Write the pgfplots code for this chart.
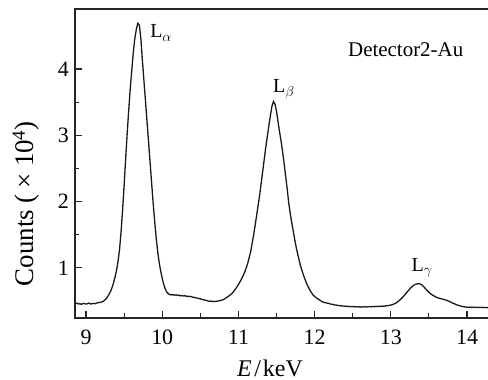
\documentclass[border=0pt]{standalone}
\usepackage{fontspec}
\setmainfont{Liberation Serif}
\usepackage{pgfplots}
\pgfplotsset{compat=1.18}
\begin{document}
\begin{tikzpicture}
\begin{axis}[
  name=ax,
  scale only axis,
  width=422.5bp, height=308.9bp,
  xmin=8.855, xmax=14.4,
  ymin=0.246, ymax=4.905,
  xtick={9,10,11,12,13,14},
  ytick={1,2,3,4},
  minor x tick num=1,
  minor y tick num=1,
  xtick pos=bottom, ytick pos=left,
  tick align=inside,
  major tick length=7bp,
  minor tick length=4.5bp,
  axis line style={line width=1.6bp, black!85},
  every tick/.style={line width=1.1bp, black!85},
  /pgf/number format/assume math mode=true,
  tick label style={font=\fontsize{22}{25}\selectfont},
  xticklabel style={inner sep=6bp, yshift=-6bp},
  yticklabel style={inner sep=6bp},
  xlabel={\textit{E}\kern2.5bp/\kern2bp keV},
  ylabel={Counts (\kern6bp×\kern6bp10\textsuperscript{4})},
  xlabel style={font=\fontsize{24}{26}\selectfont, at={(axis description cs:0.4615,-0.162)}, anchor=center},
  ylabel style={font=\fontsize{27}{29}\selectfont, at={(axis description cs:-0.116,0.37)}, anchor=center},
]
\addplot[line width=1.3bp, black!90] coordinates {
(8.86,0.460)(8.88,0.470)(8.90,0.455)(8.92,0.460)(8.94,0.450)(8.96,0.465)(8.98,0.460)(9.00,0.455)
(9.02,0.460)(9.04,0.470)(9.06,0.455)(9.08,0.460)(9.10,0.465)(9.12,0.460)(9.14,0.470)(9.16,0.475)
(9.18,0.480)(9.20,0.485)(9.22,0.490)(9.24,0.510)(9.26,0.530)(9.28,0.560)(9.30,0.600)(9.32,0.640)
(9.34,0.700)(9.36,0.770)(9.38,0.860)(9.40,0.960)(9.42,1.100)(9.44,1.280)(9.46,1.550)(9.48,1.880)
(9.50,2.250)(9.52,2.650)(9.54,3.030)(9.56,3.380)(9.58,3.700)(9.60,3.980)(9.62,4.250)(9.64,4.460)
(9.66,4.600)(9.68,4.690)(9.70,4.660)(9.72,4.450)(9.74,4.120)(9.76,3.820)(9.78,3.520)(9.80,3.210)
(9.82,2.910)(9.84,2.600)(9.86,2.290)(9.88,1.990)(9.90,1.710)(9.92,1.460)(9.94,1.250)(9.96,1.080)
(9.98,0.950)(10.00,0.840)(10.02,0.750)(10.04,0.680)(10.06,0.635)(10.08,0.610)
(10.10,0.600)(10.12,0.592)(10.14,0.598)(10.16,0.588)(10.18,0.594)(10.20,0.585)(10.22,0.590)
(10.24,0.578)(10.26,0.584)(10.28,0.576)(10.30,0.580)(10.32,0.570)(10.34,0.574)(10.36,0.566)
(10.38,0.569)(10.40,0.558)(10.42,0.556)(10.44,0.548)(10.46,0.545)(10.48,0.538)(10.50,0.535)
(10.52,0.524)(10.54,0.522)(10.56,0.512)(10.58,0.510)(10.60,0.502)(10.62,0.496)(10.64,0.500)
(10.66,0.492)(10.68,0.496)(10.70,0.494)(10.72,0.500)(10.74,0.502)(10.76,0.508)(10.78,0.514)
(10.80,0.520)(10.84,0.550)(10.88,0.580)(10.92,0.620)(10.96,0.680)(11.00,0.750)(11.04,0.830)
(11.08,0.930)(11.12,1.060)(11.16,1.240)(11.20,1.500)(11.24,1.800)(11.28,2.110)(11.32,2.470)
(11.36,2.830)(11.38,2.990)(11.40,3.150)(11.42,3.300)(11.44,3.440)(11.46,3.510)(11.48,3.470)
(11.50,3.360)(11.52,3.200)(11.54,3.050)(11.56,2.910)(11.58,2.750)(11.60,2.570)(11.62,2.380)
(11.64,2.190)(11.66,1.980)(11.68,1.820)(11.70,1.680)(11.72,1.550)(11.74,1.420)(11.76,1.300)
(11.78,1.200)(11.80,1.100)(11.82,1.010)(11.84,0.940)(11.86,0.870)(11.88,0.810)(11.90,0.750)
(11.94,0.660)(11.98,0.590)(12.02,0.550)(12.06,0.520)
(12.10,0.490)(12.12,0.482)(12.14,0.476)(12.16,0.470)(12.18,0.466)(12.20,0.458)(12.22,0.452)
(12.24,0.450)(12.26,0.442)(12.28,0.440)(12.30,0.436)(12.32,0.430)(12.34,0.432)(12.36,0.424)
(12.38,0.426)(12.40,0.420)(12.42,0.424)(12.44,0.416)(12.46,0.420)(12.48,0.414)(12.50,0.418)
(12.52,0.412)(12.54,0.416)(12.56,0.410)(12.58,0.414)(12.60,0.408)(12.62,0.414)(12.64,0.410)
(12.66,0.416)(12.68,0.410)(12.70,0.414)(12.72,0.418)(12.74,0.412)(12.76,0.418)(12.78,0.414)
(12.80,0.420)(12.82,0.416)(12.84,0.422)(12.86,0.418)(12.88,0.424)(12.90,0.420)(12.92,0.426)
(12.94,0.428)(12.96,0.430)(12.98,0.436)(13.00,0.440)(13.02,0.446)(13.04,0.455)(13.06,0.466)
(13.08,0.480)(13.10,0.498)(13.12,0.518)(13.14,0.540)(13.16,0.564)(13.18,0.590)(13.20,0.618)
(13.22,0.645)(13.24,0.672)(13.26,0.698)(13.28,0.720)(13.30,0.738)(13.32,0.750)(13.34,0.758)
(13.36,0.762)(13.38,0.760)(13.40,0.750)(13.42,0.730)(13.44,0.706)(13.46,0.680)(13.48,0.655)
(13.50,0.632)(13.52,0.612)(13.54,0.596)(13.56,0.582)(13.58,0.568)(13.60,0.556)(13.62,0.548)
(13.64,0.542)(13.66,0.534)(13.68,0.530)(13.70,0.522)(13.72,0.516)(13.74,0.508)(13.76,0.498)
(13.78,0.488)(13.80,0.476)(13.82,0.466)(13.84,0.456)(13.86,0.446)(13.88,0.438)(13.90,0.430)
(13.92,0.424)(13.94,0.418)(13.96,0.414)(13.98,0.410)(14.00,0.408)(14.02,0.406)(14.04,0.410)
(14.06,0.404)(14.08,0.408)(14.10,0.404)(14.12,0.408)(14.14,0.402)(14.16,0.406)(14.18,0.402)
(14.20,0.406)(14.22,0.400)(14.24,0.404)(14.26,0.400)(14.28,0.404)(14.30,0.400)(14.32,0.404)
(14.34,0.400)
};
\node[anchor=base west, font=\fontsize{20}{24}\selectfont, inner sep=0pt] at (axis cs:9.84,4.468) {L$_\alpha$};
\node[anchor=base west, font=\fontsize{20}{24}\selectfont, inner sep=0pt] at (axis cs:11.454,3.638) {L$_\beta$};
\node[anchor=base west, font=\fontsize{20}{24}\selectfont, inner sep=0pt] at (axis cs:13.27,0.944) {L$_\gamma$};
\node[anchor=base west, font=\fontsize{21}{24}\selectfont, inner sep=0pt] at (axis cs:12.438,4.186) {Detector2-Au};
\end{axis}
\pgfresetboundingbox
\path ([shift={(-75bp,-62bp)}]ax.south west) rectangle ([shift={(413bp,9bp)}]ax.north west);
\end{tikzpicture}
\end{document}
